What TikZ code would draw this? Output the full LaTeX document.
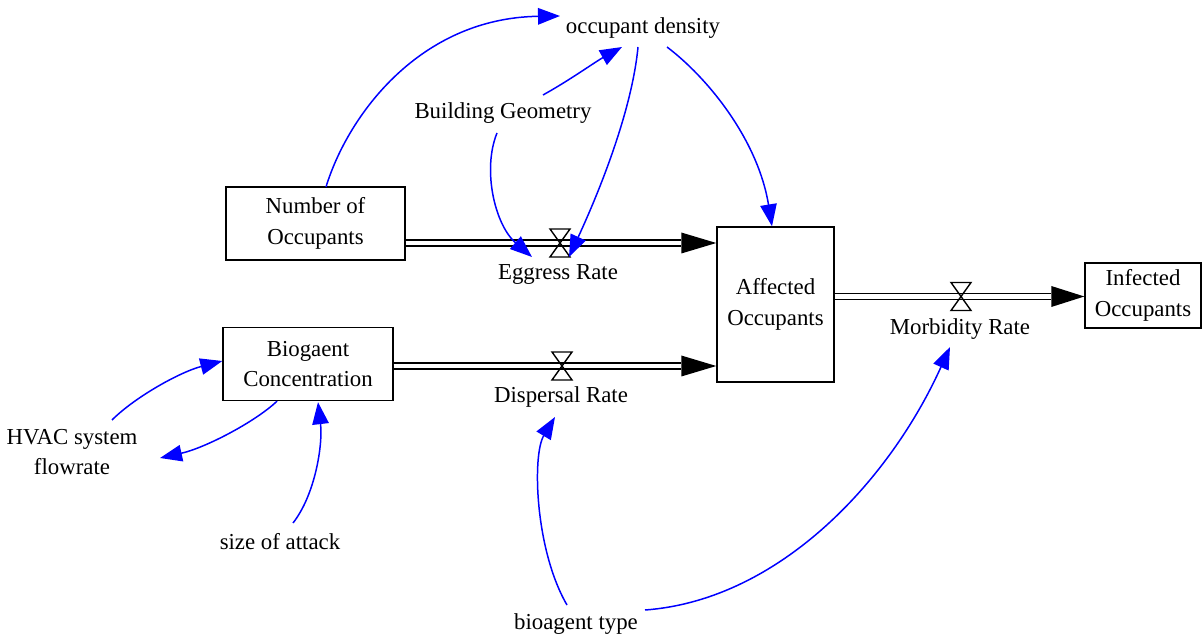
\documentclass[tikz,border=0pt]{standalone}
\usepackage{fontspec}
\setmainfont{Liberation Serif}
\usetikzlibrary{arrows.meta,calc}
\definecolor{linkblue}{RGB}{0,0,255}
\begin{document}
\begin{tikzpicture}[x=0.02cm,y=-0.02cm,
  every node/.style={font=\fontsize{13}{17.5}\selectfont, inner sep=0pt, align=center},
  stock/.style={draw, line width=0.8pt},
  link/.style={draw=linkblue, line width=0.85pt, -{Triangle[length=0.44cm,width=0.33cm]}, fill=none},
  pipe/.style={draw, double, double distance=0.09cm, line width=0.95pt},
  valve/.pic={\draw[line width=0.8pt] (-10,-14) -- (10,-14) -- (-10,14) -- (10,14) -- cycle;}
]
\useasboundingbox (0,0) rectangle (1204,638);

% stocks
\node[stock, minimum width=3.58cm, minimum height=1.46cm] (num) at (315.5,223.5) {Number of\\Occupants};
\node[stock, minimum width=3.40cm, minimum height=1.46cm] (bio) at (308,364) {Biogaent\\Concentration};
\node[stock, minimum width=2.34cm, minimum height=3.10cm] (aff) at (775.5,304.5) {Affected\\Occupants};
\node[stock, minimum width=2.32cm, minimum height=1.30cm] (inf) at (1143,295.5) {Infected\\Occupants};

% auxiliaries and rate labels
\node (occ) at (643,28) {occupant density};
\node (bg) at (503,113) {Building Geometry};
\node (egl) at (558,274) {Eggress Rate};
\node (dsl) at (561,397) {Dispersal Rate};
\node (mbl) at (960,329) {Morbidity Rate};
\node (hvac) at (72,452) {HVAC system\\flowrate};
\node (size) at (280,542) {size of attack};
\node (bt) at (576,624) {bioagent type};

% valves
\coordinate (vE) at (560,243);
\coordinate (vD) at (562,366);
\coordinate (vM) at (961,296.5);

% pipes
\draw[pipe] (num.east |- vE) -- ($(aff.west |- vE)+(-35,0)$);
\fill ($(aff.west |- vE)$) -- ++(-35,-10.5) -- ++(0,21) -- cycle;
\draw[pipe] (bio.east |- vD) -- ($(aff.west |- vD)+(-35,0)$);
\fill ($(aff.west |- vD)$) -- ++(-35,-10.5) -- ++(0,21) -- cycle;
\draw[pipe] (aff.east |- vM) -- ($(inf.west |- vM)+(-33,0)$);
\fill ($(inf.west |- vM)$) -- ++(-33,-10.5) -- ++(0,21) -- cycle;

\pic at (vE) {valve};
\pic at (vD) {valve};
\pic at (vM) {valve};

% information links
\draw[link] ($(num)+(10.5,-36.5)$) .. controls (348,115) and (420,18) .. ($(occ)+(-83,-12)$);
\draw[link] ($(bg)+(40,-18)$) .. controls (570,80) and (595,62) .. ($(occ)+(-21,19)$);
\draw[link] ($(occ)+(-5,19)$) .. controls (632,110) and (600,190) .. ($(vE)+(9,14)$);
\draw[link] ($(bg)+(-6,20)$) .. controls (482,170) and (495,225) .. ($(vE)+(-28,14)$);
\draw[link] ($(occ)+(24,19)$) .. controls (708,78) and (758,140) .. ($(aff.north)+(-3.5,0)$);
\draw[link] ($(hvac)+(40,-32)$) .. controls (135,397) and (180,372) .. ($(bio.west)+(0,-3)$);
\draw[link] ($(bio.south)+(-31,0)$) .. controls (255,422) and (205,448) .. ($(hvac)+(88,6)$);
\draw[link] ($(size)+(13,-19)$) .. controls (315,495) and (323,445) .. ($(bio.south)+(10,1)$);
\draw[link] ($(bt)+(-9,-19)$) .. controls (535,550) and (532,455) .. ($(dsl)+(-6,20)$);
\draw[link] ($(bt)+(69,-14)$) .. controls (780,600) and (890,480) .. ($(mbl)+(-10,18)$);
\end{tikzpicture}
\end{document}
